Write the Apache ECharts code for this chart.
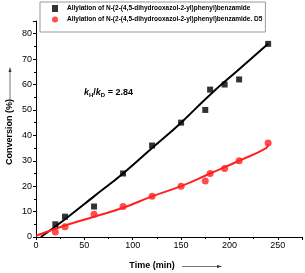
<!DOCTYPE html>
<html><head><meta charset="utf-8">
<script src="https://cdn.jsdelivr.net/npm/echarts@6/dist/echarts.min.js"></script>
<style>html,body{margin:0;padding:0;background:#fff}#c{width:305px;height:273px}</style>
</head><body><div id="c"></div>
<script>
const nameH = 'Allylation of N-(2-(4,5-dihydrooxazol-2-yl)phenyl)benzamide';
const nameD = 'Allylation of N-(2-(4,5-dihydrooxazol-2-yl)phenyl)benzamide. D5';
const timesH = [20, 30, 60, 90, 120, 150, 175, 180, 195, 210, 240];
const convH  = [5, 8, 12, 25, 36, 45, 50, 58, 60, 62, 76];
const timesD = [20, 30, 60, 90, 120, 150, 175, 180, 195, 210, 240];
const convD  = [2, 4, 9, 12, 16, 20, 22, 25, 27, 30, 37];
const fitTimesH = [5, 30, 60, 90, 120, 150, 180, 210, 240];
const fitH      = [0, 7, 16, 25, 35, 45, 56, 66, 76];
const fitTimesD = [0, 30, 60, 90, 120, 150, 180, 210, 238, 240];
const fitD      = [0.5, 4.5, 8, 11.5, 16, 20, 25, 30, 35, 36.5];
const xTicks = [0, 50, 100, 150, 200, 250];
const yTicks = [0, 10, 20, 30, 40, 50, 60, 70, 80];

const zip = (a, b) => a.map((v, i) => [v, b[i]]);
const chart = echarts.init(document.getElementById('c'));
const lblFont = {fontFamily: 'Liberation Sans, Arial', fontSize: 9, color: '#000'};
chart.setOption({
  animation: false,
  grid: {left: 36, right: 2, top: 21, bottom: 36},
  legend: {
    left: 40, top: 2, orient: 'vertical',
    borderColor: '#999', borderWidth: 1, padding: [3, 3, 9, 12], itemGap: 4,
    itemWidth: 6, itemHeight: 7,
    textStyle: {fontFamily: 'Liberation Sans, Arial', fontSize: 6.5, fontWeight: 'bold', color: '#000', padding: [0, 0, 0, 4]},
    data: [{name: nameH, icon: 'rect'}, {name: nameD, icon: 'circle'}]
  },
  xAxis: {
    type: 'value', min: 0, max: 275, interval: 50,
    axisLine: {lineStyle: {color: '#000', width: 1}},
    axisTick: {show: true, length: 3, lineStyle: {color: '#000'}},
    minorTick: {show: true, splitNumber: 2, length: 2, lineStyle: {color: '#000'}},
    splitLine: {show: false},
    axisLabel: Object.assign({margin: 4, formatter: v => xTicks.includes(v) ? String(v) : ''}, lblFont)
  },
  yAxis: {
    type: 'value', min: 0, max: 85, interval: 10,
    axisLine: {show: true, lineStyle: {color: '#000', width: 1}},
    axisTick: {show: true, length: 3, lineStyle: {color: '#000'}},
    minorTick: {show: true, splitNumber: 2, length: 2, lineStyle: {color: '#000'}},
    splitLine: {show: false},
    axisLabel: Object.assign({margin: 4, formatter: v => yTicks.includes(v) ? String(v) : ''}, lblFont)
  },
  series: [
    {name: nameH, type: 'scatter', symbol: 'rect', symbolSize: 6, itemStyle: {color: '#000'}, data: zip(timesH, convH), z: 3},
    {name: nameD, type: 'scatter', symbol: 'circle', symbolSize: 7, itemStyle: {color: '#ff2020'}, data: zip(timesD, convD), z: 3},
    {name: 'fitH', type: 'line', smooth: true, showSymbol: false, lineStyle: {color: '#000', width: 2}, data: zip(fitTimesH, fitH)},
    {name: 'fitD', type: 'line', smooth: true, showSymbol: false, lineStyle: {color: '#ff2020', width: 2}, data: zip(fitTimesD, fitD)}
  ],
  graphic: [
    {type: 'text', left: 84, top: 88, style: {
      text: '{i|k}{s|H}{n|/}{i|k}{s|D}{n| = 2.84}',
      rich: {
        i: {fontFamily: 'Liberation Sans, Arial', fontSize: 9, fontStyle: 'italic', fontWeight: 'bold', fill: '#000'},
        s: {fontFamily: 'Liberation Sans, Arial', fontSize: 6, fontWeight: 'bold', fill: '#000', verticalAlign: 'bottom', padding: [6, 0, 0, 0]},
        n: {fontFamily: 'Liberation Sans, Arial', fontSize: 9, fontWeight: 'bold', fill: '#000'}
      }}},
    {type: 'text', x: 10, y: 132, rotation: Math.PI / 2, style: {
      text: 'Conversion (%)', fontFamily: 'Liberation Sans, Arial', fontSize: 9, fontWeight: 'bold', fill: '#000',
      align: 'center', verticalAlign: 'middle'}},
    {type: 'line', shape: {x1: 10, y1: 102, x2: 10, y2: 70}, style: {stroke: '#555', lineWidth: 0.8}},
    {type: 'polygon', shape: {points: [[10, 67], [8.5, 72], [11.5, 72]]}, style: {fill: '#333'}},
    {type: 'text', x: 152, y: 266, style: {
      text: 'Time (min)', fontFamily: 'Liberation Sans, Arial', fontSize: 9, fontWeight: 'bold', fill: '#000',
      align: 'center', verticalAlign: 'middle'}},
    {type: 'line', shape: {x1: 182, y1: 266.5, x2: 218, y2: 266.5}, style: {stroke: '#555', lineWidth: 0.8}},
    {type: 'polygon', shape: {points: [[222, 266.5], [217, 265], [217, 268]]}, style: {fill: '#333'}}
  ]
});
</script></body></html>
